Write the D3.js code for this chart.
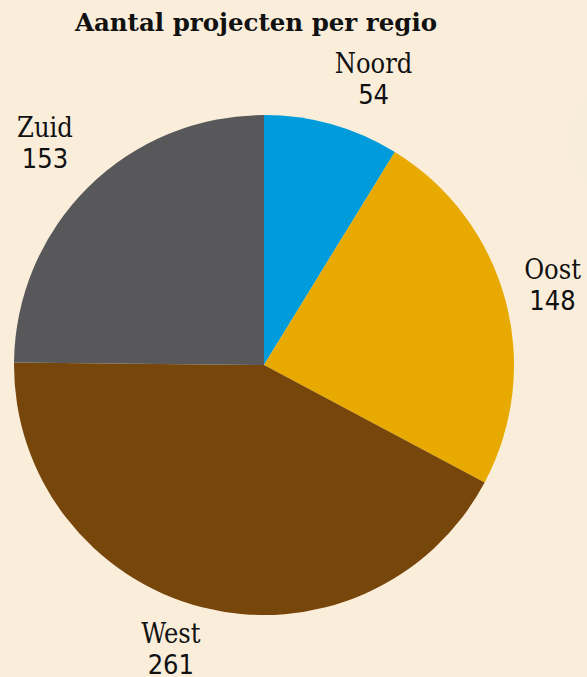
<!DOCTYPE html>
<html>
<head>
<meta charset="utf-8">
<script src="https://cdn.jsdelivr.net/npm/d3@7"></script>
<style>
  html, body { margin: 0; padding: 0; background: #faeedb; }
  svg { display: block; }
</style>
</head>
<body>
<svg id="chart" width="587" height="677"></svg>
<script>
const categories = ["Noord", "Oost", "West", "Zuid"];
const values = [54, 148, 261, 153];
const colors = ["#009bdb", "#e8aa00", "#76460a", "#58585a"];
const title = "Aantal projecten per regio";

const W = 587, H = 677;
const cx = 264, cy = 365, R = 250, labelR = 300;
const svg = d3.select("#chart");

svg.append("rect").attr("width", W).attr("height", H).attr("fill", "#faeedb");
// faint background shape at right edge
svg.append("circle").attr("cx", 628).attr("cy", 140).attr("r", 60)
  .attr("fill", "#f8ecda");

svg.append("text")
  .attr("x", 256).attr("y", 31)
  .attr("text-anchor", "middle")
  .attr("font-family", "DejaVu Serif, serif")
  .attr("font-weight", "bold")
  .attr("font-size", 24.5)
  .attr("fill", "#111")
  .text(title);

const data = categories.map((c, i) => ({ name: c, value: values[i], color: colors[i] }));
const pie = d3.pie().value(d => d.value).sort(null);
const arcs = pie(data);
const arc = d3.arc().innerRadius(0).outerRadius(R);
const labelArc = d3.arc().innerRadius(labelR).outerRadius(labelR);

const g = svg.append("g").attr("transform", `translate(${cx},${cy})`);
g.selectAll("path").data(arcs).enter().append("path")
  .attr("d", arc)
  .attr("fill", d => d.data.color);

// small nudges for label placement (layout only)
const nudge = { Noord: [28, 11], Oost: [-1, 7], West: [-19, 1], Zuid: [-8, -1] };

const lbl = g.selectAll("g.lbl").data(arcs).enter().append("g")
  .attr("class", "lbl")
  .attr("transform", d => {
    const [x, y] = labelArc.centroid(d);
    const n = nudge[d.data.name];
    return `translate(${x + n[0]},${y + n[1]})`;
  });
lbl.append("text")
  .attr("text-anchor", "middle")
  .attr("font-family", "DejaVu Serif Condensed, DejaVu Serif, serif")
  .attr("font-stretch", "condensed")
  .attr("font-size", 27)
  .attr("fill", "#111")
  .attr("y", -14)
  .text(d => d.data.name);
lbl.append("text")
  .attr("text-anchor", "middle")
  .attr("font-family", "DejaVu Sans Condensed, DejaVu Sans, sans-serif")
  .attr("font-stretch", "condensed")
  .attr("font-size", 27)
  .attr("fill", "#111")
  .attr("y", 17)
  .text(d => d.data.value);
</script>
</body>
</html>
